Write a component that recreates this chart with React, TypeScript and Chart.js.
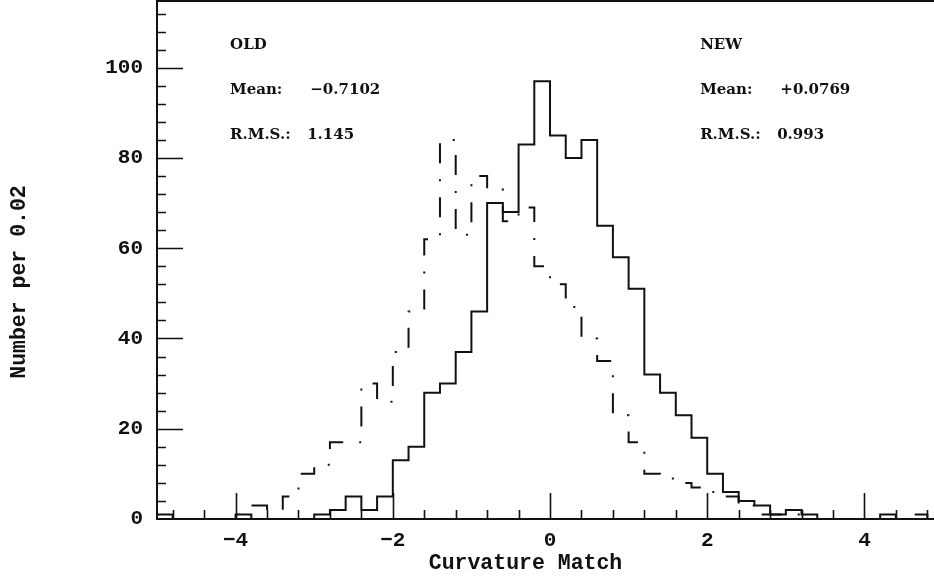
import React, { useEffect, useRef } from "react";
import { Chart, registerables } from "chart.js";

Chart.register(...registerables);

// Histogram binning (bin left edges start at BIN_START, each BIN_WIDTH wide)
const BIN_START = -5;
const BIN_WIDTH = 0.2;

// NEW distribution (solid line), counts per bin from -5.0 to +5.0
const NEW_COUNTS = [
  1, 0, 0, 0, 0, 1, 0, 0, 0, 0,
  1, 2, 5, 2, 5, 13, 16, 28, 30, 37,
  46, 70, 68, 83, 97, 85, 80, 84, 65, 58,
  51, 32, 28, 23, 18, 10, 6, 4, 3, 1,
  2, 1, 0, 0, 0, 0, 1, 0, 0, 0,
];

// OLD distribution (dash-dot line)
const OLD_COUNTS = [
  0, 0, 0, 0, 0, 0, 3, 0, 5, 10,
  12, 17, 17, 30, 26, 37, 46, 62, 84, 63,
  76, 73, 66, 69, 56, 52, 47, 40, 35, 23,
  17, 10, 9, 8, 7, 6, 5, 3, 1, 1,
  1, 0, 0, 0, 0, 0, 0, 0, 1, 0,
];

const X_TICK_LABELS = [-4, -2, 0, 2, 4];
const Y_TICK_LABELS = [0, 20, 40, 60, 80, 100];
const X_MINOR_STEP = 0.4;
const X_MAJOR_STEP = 2;
const Y_MINOR_STEP = 4;
const Y_MAJOR_STEP = 20;

const X_TITLE = "Curvature Match";
const Y_TITLE = "Number per 0.02";

// Statistics boxes: [text, x (data), y (data)]
const STAT_TEXTS: [string, number, number][] = [
  ["OLD", -4.07, 105],
  ["Mean:", -4.07, 95],
  ["\u22120.7102", -3.05, 95],
  ["R.M.S.:", -4.07, 85],
  ["1.145", -3.09, 85],
  ["NEW", 1.91, 105],
  ["Mean:", 1.91, 95],
  ["+0.0769", 2.93, 95],
  ["R.M.S.:", 1.91, 85],
  ["0.993", 2.89, 85],
];

const TITLE_FONT = 'bold 21.5px "Liberation Mono", monospace';

function toSteps(counts: number[]) {
  const pts = counts.map((c, i) => ({ x: BIN_START + i * BIN_WIDTH, y: c }));
  pts.push({ x: BIN_START + counts.length * BIN_WIDTH, y: 0 });
  return pts;
}

const framePlugin = {
  id: "frame",
  afterDatasetsDraw(chart: any) {
    const { ctx, chartArea, scales } = chart;
    const xs = scales.x;
    const ys = scales.y;
    ctx.save();
    ctx.strokeStyle = "#111";
    ctx.lineWidth = 2;
    ctx.beginPath();
    ctx.moveTo(chartArea.left, chartArea.top + 1);
    ctx.lineTo(chartArea.right, chartArea.top + 1);
    ctx.moveTo(chartArea.left, chartArea.top);
    ctx.lineTo(chartArea.left, chartArea.bottom);
    ctx.lineTo(chartArea.right, chartArea.bottom);
    ctx.stroke();

    ctx.lineWidth = 1.6;
    ctx.beginPath();
    // x ticks (inward from bottom)
    const xStart = Math.ceil(xs.min / X_MINOR_STEP) * X_MINOR_STEP;
    for (let k = 0; xStart + k * X_MINOR_STEP <= xs.max + 1e-9; k++) {
      const v = xStart + k * X_MINOR_STEP;
      const isMajor = Math.abs(v / X_MAJOR_STEP - Math.round(v / X_MAJOR_STEP)) < 1e-6;
      const px = Math.round(xs.getPixelForValue(v)) + 0.5;
      if (px <= chartArea.left + 1) continue;
      const len = isMajor ? 26 : 9;
      ctx.moveTo(px, chartArea.bottom);
      ctx.lineTo(px, chartArea.bottom - len);
    }
    // y ticks (inward from left)
    for (let v = ys.min + Y_MINOR_STEP; v <= ys.max; v += Y_MINOR_STEP) {
      const isMajor = Math.abs(v % Y_MAJOR_STEP) < 1e-6;
      const py = Math.round(ys.getPixelForValue(v)) + 0.5;
      const len = isMajor ? 26 : 9;
      ctx.moveTo(chartArea.left, py);
      ctx.lineTo(chartArea.left + len, py);
    }
    ctx.stroke();
    ctx.restore();
  },
  afterDraw(chart: any) {
    const { ctx, scales } = chart;
    ctx.save();
    ctx.fillStyle = "#111";
    ctx.font = 'bold 15px "DejaVu Serif"';
    ctx.textAlign = "left";
    ctx.textBaseline = "middle";
    STAT_TEXTS.forEach(([t, x, y]) => {
      ctx.fillText(t, scales.x.getPixelForValue(x), scales.y.getPixelForValue(y));
    });

    // axis titles
    ctx.font = TITLE_FONT;
    ctx.textAlign = "center";
    ctx.textBaseline = "alphabetic";
    ctx.fillText(X_TITLE, 525.5, 569);
    ctx.translate(25, 282);
    ctx.rotate(-Math.PI / 2);
    ctx.fillText(Y_TITLE, 0, 0);
    ctx.restore();
  },
};

export default function App() {
  const ref = useRef<HTMLCanvasElement | null>(null);

  useEffect(() => {
    if (!ref.current) return;
    const tickFont = { family: '"Liberation Mono", monospace', size: 21, weight: "bold" as const };
    const chart = new Chart(ref.current, {
      type: "line",
      data: {
        datasets: [
          {
            label: "OLD",
            data: toSteps(OLD_COUNTS),
            stepped: "before",
            borderColor: "#111",
            borderWidth: 2,
            borderDash: [20, 16, 2, 16],
            borderCapStyle: "butt",
            pointRadius: 0,
            fill: false,
          },
          {
            label: "NEW",
            data: toSteps(NEW_COUNTS),
            stepped: "before",
            borderColor: "#111",
            borderWidth: 2,
            pointRadius: 0,
            fill: false,
          },
        ],
      },
      options: {
        animation: false,
        responsive: false,
        devicePixelRatio: 1,
        layout: { padding: 0 },
        plugins: { legend: { display: false }, tooltip: { enabled: false } },
        scales: {
          x: {
            type: "linear",
            min: -5,
            max: 4.885,
            grid: { display: false, drawTicks: false },
            border: { display: false },
            afterBuildTicks: (s: any) => {
              s.ticks = X_TICK_LABELS.map((v) => ({ value: v }));
            },
            afterFit: (s: any) => {
              s.height = 65;
              s.paddingLeft = 0;
              s.paddingRight = 0;
            },
            ticks: {
              color: "#111",
              font: tickFont,
              padding: 9,
              maxRotation: 0,
              autoSkip: false,
              callback: (v: any) => (v < 0 ? "\u2212" + Math.abs(v) : String(v)),
            },
          },
          y: {
            type: "linear",
            min: 0,
            max: 115,
            grid: { display: false, drawTicks: false },
            border: { display: false },
            afterBuildTicks: (s: any) => {
              s.ticks = Y_TICK_LABELS.map((v) => ({ value: v }));
            },
            afterFit: (s: any) => {
              s.width = 157;
              s.paddingTop = 0;
              s.paddingBottom = 0;
            },
            ticks: {
              color: "#111",
              font: tickFont,
              padding: 14,
              autoSkip: false,
            },
          },
        },
      },
      plugins: [framePlugin],
    } as any);
    return () => chart.destroy();
  }, []);

  return (
    <div style={{ position: "fixed", left: 0, top: 0, width: 934, height: 584, background: "#fff" }}>
      <canvas ref={ref} width={934} height={584} style={{ display: "block" }} />
    </div>
  );
}
